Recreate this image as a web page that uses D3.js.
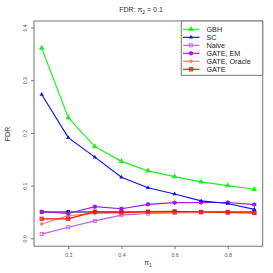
<!DOCTYPE html>
<html><head><meta charset="utf-8">
<script src="https://cdn.jsdelivr.net/npm/d3@7"></script>
<style>body{margin:0;background:#fff}svg{display:block}text{font-family:"Liberation Sans",Arial,sans-serif}</style>
</head><body><svg id="c" width="273" height="273"></svg>
<script>
const pi1 = [0.1,0.2,0.3,0.4,0.5,0.6,0.7,0.8,0.9];
const nominal = [0.05,0.05,0.05,0.05,0.05,0.05,0.05,0.05,0.05];
const gbh = [0.361,0.229,0.174,0.146,0.128,0.117,0.107,0.100,0.093];
const sc = [0.273,0.191,0.154,0.116,0.096,0.084,0.071,0.066,0.055];
const naive = [0.008,0.021,0.033,0.044,0.047,0.048,0.049,0.049,0.048];
const gateEM = [0.0505,0.047,0.060,0.056,0.0645,0.0676,0.068,0.068,0.064];
const gateOracle = [0.027,0.043,0.047,0.048,0.049,0.049,0.049,0.049,0.049];
const gate = [0.037,0.037,0.0505,0.049,0.0505,0.051,0.050,0.049,0.048];
const xTicks = [0.2,0.4,0.6,0.8];
const yTicks = [0.0,0.1,0.2,0.3,0.4];
const seriesNames = ["GBH","SC","Naive","GATE, EM","GATE, Oracle","GATE"];

const series = [
  {name:"", vals:nominal, color:"#000000", shape:"sqfill"},
  {name:seriesNames[2], vals:naive, color:"#C35BF0", shape:"sqopen"},
  {name:seriesNames[4], vals:gateOracle, color:"#FF7F60", shape:"circle"},
  {name:seriesNames[5], vals:gate, color:"#FF1010", shape:"sqcross"},
  {name:seriesNames[3], vals:gateEM, color:"#9B1BE8", shape:"star"},
  {name:seriesNames[1], vals:sc, color:"#1010FF", shape:"trismall"},
  {name:seriesNames[0], vals:gbh, color:"#22EE22", shape:"tri"}
];

const svg = d3.select("#c");
const L=34, R=262.7, T=21, B=246.2;
const x = d3.scaleLinear().domain([0.1,0.9]).range([41.7,254.3]);
const y = d3.scaleLinear().domain([0,0.4]).range([238.3,27.5]);
const axCol="#777";

svg.append("rect").attr("x",L).attr("y",T).attr("width",R-L).attr("height",B-T)
  .attr("fill","none").attr("stroke",axCol).attr("stroke-width",1);

const xa = svg.append("g").attr("transform",`translate(0,${B})`)
  .call(d3.axisBottom(x).tickValues(xTicks).tickSize(3).tickPadding(4).tickFormat(d3.format(".1f")));
xa.select(".domain").remove();
xa.selectAll("line").attr("stroke",axCol);
xa.selectAll("text").attr("font-size",5.2).attr("fill","#555");

const ya = svg.append("g").attr("transform",`translate(${L},0)`)
  .call(d3.axisLeft(y).tickValues(yTicks).tickSize(3).tickPadding(0).tickFormat(d3.format(".1f")));
ya.select(".domain").remove();
ya.selectAll("line").attr("stroke",axCol);
ya.selectAll("text").attr("font-size",5.2).attr("fill","#555")
  .attr("transform",function(d){return `translate(-9,0) rotate(-90)`;})
  .attr("x",0).attr("dy","0.32em").attr("text-anchor","middle");

svg.append("text").attr("x",141).attr("y",12).attr("text-anchor","middle").attr("font-size",7).attr("fill","#333")
  .html('FDR: π<tspan font-size="5" dy="1.5">2</tspan><tspan dy="-1.5"> = 0.1</tspan>');
svg.append("text").attr("x",148).attr("y",265).attr("text-anchor","middle").attr("font-size",7).attr("fill","#333")
  .html('π<tspan font-size="5" dy="1.5">1</tspan>');
svg.append("text").attr("transform","translate(10,134) rotate(-90)").attr("text-anchor","middle").attr("font-size",7).attr("fill","#333").text("FDR");

function marker(g, shape, cx, cy, color){
  if(shape==="tri"){
    g.append("path").attr("d",d3.symbol(d3.symbolTriangle,14)()).attr("transform",`translate(${cx},${cy})`).attr("fill",color);
  } else if(shape==="trismall"){
    g.append("path").attr("d",d3.symbol(d3.symbolTriangle,8)()).attr("transform",`translate(${cx},${cy})`).attr("fill",color);
  } else if(shape==="sqopen"){
    g.append("rect").attr("x",cx-1.6).attr("y",cy-1.6).attr("width",3.2).attr("height",3.2).attr("fill","none").attr("stroke",color).attr("stroke-width",0.8);
  } else if(shape==="sqfill"){
    g.append("rect").attr("x",cx-1.8).attr("y",cy-1.8).attr("width",3.6).attr("height",3.6).attr("fill",color);
  } else if(shape==="sqcross"){
    g.append("rect").attr("x",cx-1.7).attr("y",cy-1.7).attr("width",3.4).attr("height",3.4).attr("fill",color).attr("fill-opacity",0.6).attr("stroke",color).attr("stroke-width",0.8);
  } else if(shape==="circle"){
    g.append("circle").attr("cx",cx).attr("cy",cy).attr("r",1.8).attr("fill",color);
  } else if(shape==="star"){
    g.append("circle").attr("cx",cx).attr("cy",cy).attr("r",2).attr("fill",color);
    g.append("path").attr("d",d3.symbol(d3.symbolAsterisk,16)()).attr("transform",`translate(${cx},${cy})`).attr("stroke",color).attr("stroke-width",0.7);
  }
}

const line = d3.line().x((d,i)=>x(pi1[i])).y(d=>y(d));
series.forEach(s=>{
  const g = svg.append("g");
  g.append("path").datum(s.vals).attr("d",line).attr("fill","none").attr("stroke",s.color).attr("stroke-width",1.15);
  s.vals.forEach((v,i)=>marker(g,s.shape,x(pi1[i]),y(v),s.color));
});

// legend
const lg = svg.append("g");
lg.append("rect").attr("x",181.3).attr("y",T).attr("width",R-181.3).attr("height",54.3)
  .attr("fill","#fff").attr("stroke",axCol).attr("stroke-width",1);
const legOrder = [6,5,1,4,2,3].map(i=>series[i]);
legOrder.forEach((s,i)=>{
  const yy = 29.3 + i*8;
  lg.append("line").attr("x1",183).attr("x2",199.5).attr("y1",yy).attr("y2",yy).attr("stroke",s.color).attr("stroke-width",1.15);
  marker(lg,s.shape,191,yy,s.color);
  lg.append("text").attr("x",206.5).attr("y",yy).attr("dy","0.35em").attr("font-size",7.2).attr("fill","#222").text(s.name);
});
</script></body></html>
